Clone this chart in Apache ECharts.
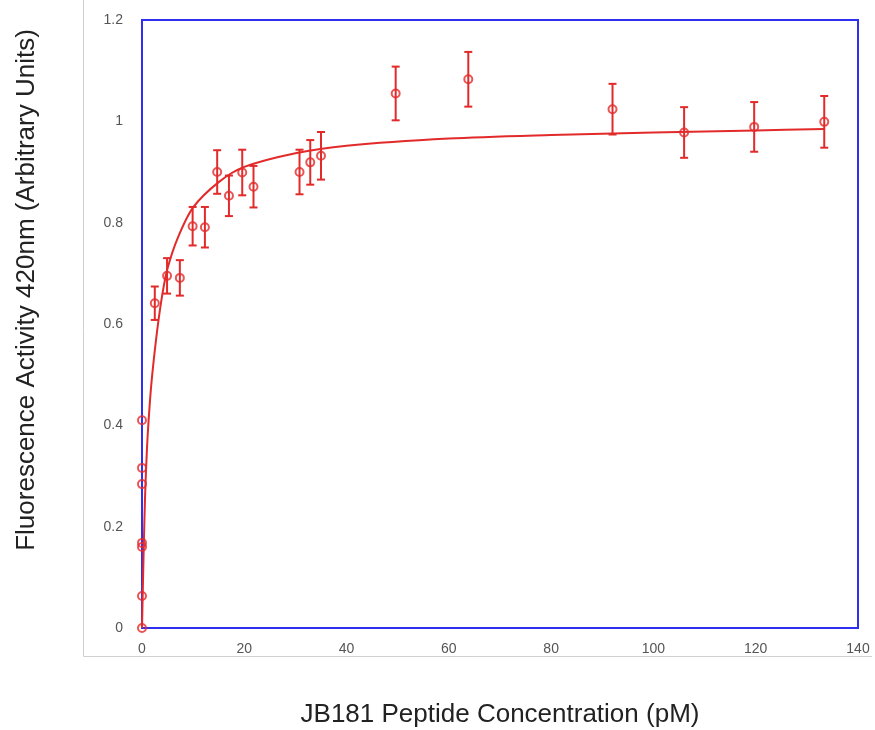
<!DOCTYPE html>
<html>
<head>
<meta charset="utf-8">
<script src="https://cdn.jsdelivr.net/npm/echarts@6/dist/echarts.min.js"></script>
<style>
  html, body { margin: 0; padding: 0; background: #fff; }
  #chart { width: 875px; height: 730px; }
</style>
</head>
<body>
<div id="chart"></div>
<script>
// measured points (pM, activity, +/- error)
var concentration = [0, 0, 0, 0, 0, 0, 0,
  2.5, 4.9, 7.4, 9.9, 12.3, 14.7, 17.0, 19.6, 21.8, 30.8, 32.9, 35.0,
  49.6, 63.8, 92.0, 106.0, 119.7, 133.4];
var activity = [0, 0.063, 0.16, 0.168, 0.284, 0.316, 0.41,
  0.641, 0.695, 0.691, 0.793, 0.791, 0.900, 0.853, 0.899, 0.871, 0.900, 0.919, 0.932,
  1.055, 1.083, 1.024, 0.978, 0.989, 0.999];
var errorSize = [0, 0, 0, 0, 0, 0, 0,
  0.033, 0.035, 0.035, 0.038, 0.040, 0.043, 0.040, 0.045, 0.041, 0.044, 0.044, 0.047,
  0.053, 0.054, 0.050, 0.050, 0.049, 0.051];

// fitted curve
var fitX = [0, 0.3, 0.6, 1, 1.5, 2, 3, 4, 5, 7, 10, 15, 20, 30, 40, 60, 80, 100, 120, 133.4];
var fitY = [0, 0.14, 0.26, 0.36, 0.44, 0.5, 0.59, 0.66, 0.71, 0.77, 0.83, 0.88, 0.91, 0.937, 0.952, 0.966, 0.973, 0.978, 0.982, 0.985];

var xTicks = { min: 0, max: 140, interval: 20 };
var yTicks = { min: 0, max: 1.2, interval: 0.2 };

var red = '#e22a2a';
var blue = '#2f2ff2';

var points = concentration.map(function (x, i) { return [x, activity[i]]; });
var bars = concentration.map(function (x, i) {
  return [x, activity[i] - errorSize[i], activity[i] + errorSize[i]];
}).filter(function (d, i) { return errorSize[i] > 0; });
var fit = fitX.map(function (x, i) { return [x, fitY[i]]; });

var myChart = echarts.init(document.getElementById('chart'));
var option = {
  animation: false,
  textStyle: { fontFamily: 'Liberation Sans, Arial, sans-serif' },
  graphic: [
    { type: 'line', shape: { x1: 83.5, y1: 0, x2: 83.5, y2: 656.5 }, style: { stroke: '#d0d0d0', lineWidth: 1 } },
    { type: 'line', shape: { x1: 83.5, y1: 656.5, x2: 872, y2: 656.5 }, style: { stroke: '#d0d0d0', lineWidth: 1 } }
  ],
  grid: {
    left: 142, right: 17, top: 20, bottom: 102,
    outerBoundsMode: 'none',
    show: true, borderColor: blue, borderWidth: 2, backgroundColor: 'transparent'
  },
  xAxis: {
    type: 'value', min: xTicks.min, max: xTicks.max, interval: xTicks.interval,
    name: 'JB181 Peptide Concentration (pM)', nameLocation: 'middle', nameGap: 74,
    nameTextStyle: { fontSize: 26, color: '#222' },
    axisLine: { show: false }, axisTick: { show: false }, splitLine: { show: false },
    axisLabel: { color: '#555', fontSize: 14, margin: 14 }
  },
  yAxis: {
    type: 'value', min: yTicks.min, max: yTicks.max, interval: yTicks.interval,
    name: 'Fluorescence Activity 420nm (Arbitrary Units)', nameLocation: 'middle', nameGap: 102,
    nameTextStyle: { fontSize: 26, color: '#222', padding: [0, 0, 0, 68] },
    axisLine: { show: false }, axisTick: { show: false }, splitLine: { show: false },
    axisLabel: { color: '#555', fontSize: 14, margin: 19 }
  },
  series: [
    {
      type: 'line', data: fit, smooth: 0.3, showSymbol: false, z: 2,
      lineStyle: { color: red, width: 2 }
    },
    {
      type: 'custom', z: 3,
      renderItem: function (params, api) {
        var lo = api.coord([api.value(0), api.value(1)]);
        var hi = api.coord([api.value(0), api.value(2)]);
        var w = 4;
        var st = { stroke: red, lineWidth: 2 };
        return {
          type: 'group',
          children: [
            { type: 'line', shape: { x1: lo[0], y1: lo[1], x2: hi[0], y2: hi[1] }, style: st },
            { type: 'line', shape: { x1: lo[0] - w, y1: lo[1], x2: lo[0] + w, y2: lo[1] }, style: st },
            { type: 'line', shape: { x1: hi[0] - w, y1: hi[1], x2: hi[0] + w, y2: hi[1] }, style: st }
          ]
        };
      },
      encode: { x: 0, y: [1, 2] },
      data: bars
    },
    {
      type: 'scatter', data: points, symbol: 'circle', symbolSize: 8, z: 4,
      itemStyle: { color: 'rgba(255,255,255,0)', borderColor: red, borderWidth: 2 }
    }
  ]
};
myChart.setOption(option);
window.addEventListener('resize', function () { myChart.resize(); });
</script>
</body>
</html>
